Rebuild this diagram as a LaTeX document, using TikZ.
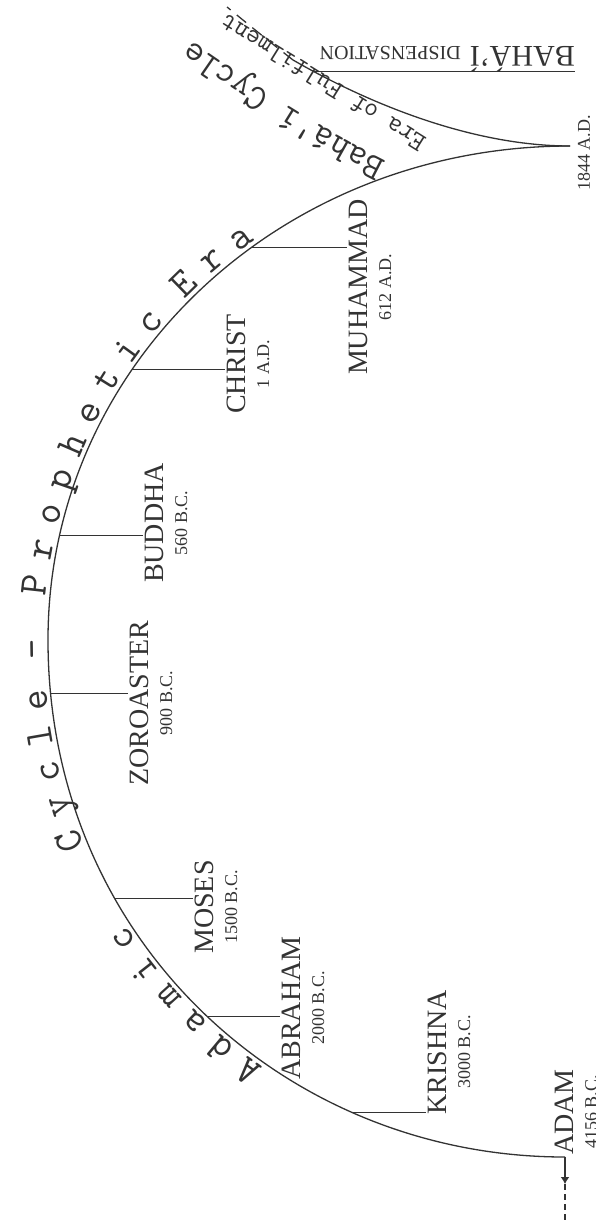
\documentclass[tikz,border=0pt]{standalone}
\usepackage{fontspec}
\setmainfont{Liberation Serif}
\usepackage{tikz}
\usetikzlibrary{arrows.meta,decorations.text}
\usepackage{xcolor}
\definecolor{InkGrey}{HTML}{333333}
\newcommand\namefont{\fontsize{28}{24}\selectfont}
\newcommand\datefont{\fontsize{18}{24}\selectfont}
\newcommand\cyclefont{\fontsize{40}{40}\selectfont\ttfamily\fontdimen2\font=14.7pt\relax\color{InkGrey}}
\newcommand\bahaifont{\fontsize{37}{37}\selectfont\ttfamily\color{InkGrey}}
\newcommand\erafont{\fontsize{27}{27}\selectfont\ttfamily\color{InkGrey}}

\begin{document}
\begin{tikzpicture}[x=1pt,y=-1pt,
  every node/.style={text=InkGrey},
  era/.style={draw=InkGrey,line width=1.3pt},
  tick/.style={draw=InkGrey,line width=0.9pt},
  prophet/.style={rotate=90,align=center,inner sep=1.5pt,font=\datefont},
  arcword/.style 2 args={decorate,decoration={text along path,raise=4pt,text align={left indent=#1},text={|\cyclefont|#2}}}]
\useasboundingbox (0,0) rectangle (596,1220);
\coordinate (adam) at (565,1157);
\coordinate (a1) at (285,1157);
\coordinate (a2) at (48,940);
\coordinate (west) at (48,640);
\coordinate (b1) at (48,365);
\coordinate (b2) at (280,146);
\coordinate (cusp) at (570,146);
\coordinate (c1) at (480,146);
\coordinate (c2) at (380,110);
\coordinate (fork) at (293,60);
\coordinate (c3) at (265,38);
\coordinate (tail) at (227,7);
\coordinate (arrowtip) at (565,1184);
\coordinate (past) at (565,1222);
\coordinate (dispend) at (575,72);
\coordinate (erastart) at (435,143);
\coordinate (eraend) at (192,-8);
\coordinate (bstart) at (400,161);
\coordinate (bc1) at (330,127);
\coordinate (bc2) at (260,82);
\coordinate (bfinish) at (180,25);

\draw[era] (adam) .. controls (a1) and (a2) .. (west)
  coordinate[pos=0.27] (pkrishna) coordinate[pos=0.49] (pabraham)
  coordinate[pos=0.68] (pmoses) coordinate[pos=0.94] (pzoroaster)
  .. controls (b1) and (b2) .. (cusp)
  coordinate[pos=0.13] (pbuddha) coordinate[pos=0.365] (pchrist)
  coordinate[pos=0.585] (pmuhammad);
\draw[era] (cusp) .. controls (c1) and (c2) .. (fork) coordinate[pos=0.92] (pjoin);
\draw[era,dash pattern=on 12pt off 8pt] (fork) .. controls (c3) .. (tail);
\draw[era,-{Latex[length=7pt,width=9pt]}] (adam) -- (arrowtip);
\draw[era,dash pattern=on 6pt off 4pt] (arrowtip) -- (past);
\draw[era] (pjoin) -- (pjoin -| dispend);

\path[arcword={318pt}{A d a m i c}] (adam) .. controls (a1) and (a2) .. (west) .. controls (b1) and (b2) .. (cusp);
\path[arcword={604pt}{C y c l e}] (adam) .. controls (a1) and (a2) .. (west) .. controls (b1) and (b2) .. (cusp);
\path[arcword={795pt}{-}] (adam) .. controls (a1) and (a2) .. (west) .. controls (b1) and (b2) .. (cusp);
\path[arcword={857pt}{P r o p h e t i c}] (adam) .. controls (a1) and (a2) .. (west) .. controls (b1) and (b2) .. (cusp);
\path[arcword={1189pt}{E r a}] (adam) .. controls (a1) and (a2) .. (west) .. controls (b1) and (b2) .. (cusp);
\path[decorate,decoration={text along path,text align={left indent=9pt},text={|\erafont|Era of Fulfilment}}] (erastart) -- (eraend);
\path[decorate,decoration={text along path,raise=6pt,text align={left indent=12pt},text={|\bahaifont|Bahá'í Cycle}}] (bstart) .. controls (bc1) and (bc2) .. (bfinish);

\node[prophet] (muhammad) at (370,287) {{\namefont MUHAMMAD}\\612 A.D.};
\node[prophet] (christ) at (248,364) {{\namefont CHRIST}\\1 A.D.};
\node[prophet] (buddha) at (166,523) {{\namefont BUDDHA}\\560 B.C.};
\node[prophet] (zoroaster) at (151,703) {{\namefont ZOROASTER}\\900 B.C.};
\node[prophet] (moses) at (216,907) {{\namefont MOSES}\\1500 B.C.};
\node[prophet] (abraham) at (303,1008) {{\namefont ABRAHAM}\\2000 B.C.};
\node[prophet] (krishna) at (449,1052) {{\namefont KRISHNA}\\3000 B.C.};
\node[prophet] (adamlabel) at (576,1112) {{\namefont ADAM}\\4156 B.C.};
\node[prophet] (fulfilment) at (584,153) {1844 A.D.};
\node[rotate=180,anchor=base west,inner sep=0pt,font=\fontsize{20}{20}\selectfont] (dispensation) at (575,47) {{\fontsize{30}{30}\selectfont BAHÁ'Í}\hspace{9pt}DISPENSATION};

\draw[tick] (pmuhammad) -- (pmuhammad -| muhammad.north);
\draw[tick] (pchrist) -- (pchrist -| christ.north);
\draw[tick] (pbuddha) -- (pbuddha -| buddha.north);
\draw[tick] (pzoroaster) -- (pzoroaster -| zoroaster.north);
\draw[tick] (pmoses) -- (pmoses -| moses.north);
\draw[tick] (pabraham) -- (pabraham -| abraham.north);
\draw[tick] (pkrishna) -- (pkrishna -| krishna.north);
\end{tikzpicture}
\end{document}
